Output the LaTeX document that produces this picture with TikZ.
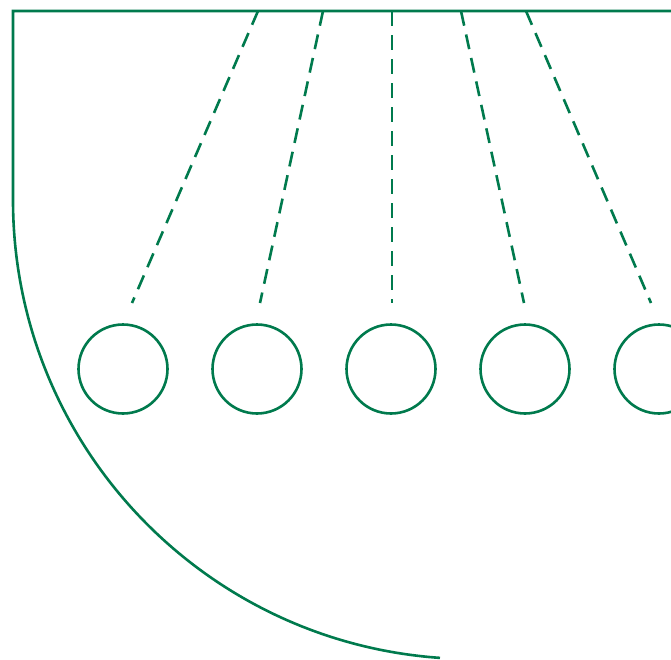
\documentclass[tikz,border=0pt]{standalone}
\usetikzlibrary{positioning}
\definecolor{cradlegreen}{RGB}{0,122,77}

\begin{document}
\begin{tikzpicture}[
  x=1pt, y=1pt,
  node distance=45pt,
  rim/.style={draw=cradlegreen, line width=2.6pt},
  ball/.style={circle, draw=cradlegreen, line width=2.6pt, minimum size=89pt,
    inner sep=0pt, outer sep=0pt},
  cord/.style={draw=cradlegreen, line width=2.6pt, dash pattern=on 15pt off 9pt}
]
\useasboundingbox (0,0) rectangle (671,-659);
\draw[rim] (690,-11) -- (13,-11) -- (13,-200)
  arc[start angle=180, end angle=266, radius=459];
\node[ball] (b1) at (123,-369) {};
\node[ball, right=of b1] (b2) {};
\node[ball, right=of b2] (b3) {};
\node[ball, right=of b3] (b4) {};
\node[ball, right=of b4] (b5) {};
\coordinate (t1) at (258,-11);
\coordinate (t2) at (323,-11);
\coordinate (t3) at (392,-11);
\coordinate (t4) at (461,-11);
\coordinate (t5) at (526,-11);
\coordinate (e1) at (132,-303);
\coordinate (e2) at (260,-303);
\coordinate (e3) at (392,-303);
\coordinate (e4) at (524,-303);
\coordinate (e5) at (651,-303);
\draw[cord] (t1) -- (e1);
\draw[cord] (t2) -- (e2);
\draw[cord] (t3) -- (e3);
\draw[cord] (t4) -- (e4);
\draw[cord] (t5) -- (e5);
\end{tikzpicture}
\end{document}
